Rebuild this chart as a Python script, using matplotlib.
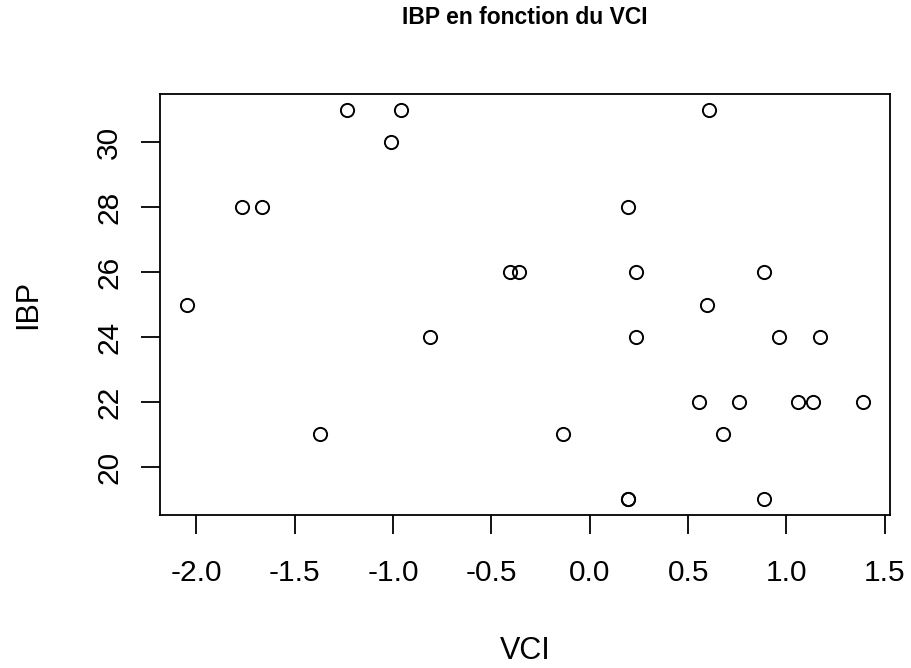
import matplotlib
matplotlib.use("Agg")
import matplotlib.pyplot as plt
import numpy as np

# Data
vci = [-2.048, -1.771, -1.669, -1.370, -1.236, -1.009, -0.958, -0.815,
       -0.404, -0.358, -0.136,
       0.606, 0.195, 0.236, 0.886, 0.596, 0.236, 0.964, 1.172,
       0.555, 0.761, 1.058, 1.133, 1.389, 0.678,
       0.192, 0.1925, 0.886]
ibp = [25, 28, 28, 21, 31, 30, 31, 24,
       26, 26, 21,
       31, 28, 26, 26, 25, 24, 24, 24,
       22, 22, 22, 22, 22, 21,
       19, 19, 19]

x_ticks = [-2.0, -1.5, -1.0, -0.5, 0.0, 0.5, 1.0, 1.5]
y_ticks = [20, 22, 24, 26, 28, 30]
title = "IBP en fonction du VCI"
xlabel = "VCI"
ylabel = "IBP"

plt.rcParams['font.family'] = ['Liberation Sans', 'DejaVu Sans']

fig = plt.figure(figsize=(9.11, 6.68), dpi=100)
ax = fig.add_axes([160/911, 1 - 515/668, 730/911, (515 - 94.3)/668])

ax.plot(vci, ibp, linestyle='none', marker='o', markersize=9.5,
        markerfacecolor='none', markeredgecolor='black', markeredgewidth=1.4)

# R-style 4% extension of the data range
xr = max(vci) - min(vci)
yr = max(ibp) - min(ibp)
ax.set_xlim(min(vci) - 0.04 * xr, max(vci) + 0.04 * xr)
ax.set_ylim(min(ibp) - 0.04 * yr, max(ibp) + 0.04 * yr)

ax.set_xticks(x_ticks)
ax.set_xticklabels([f"{v:.1f}" for v in x_ticks])
ax.set_yticks(y_ticks)
ax.set_yticklabels([str(v) for v in y_ticks], rotation=90, va='center')

for s in ax.spines.values():
    s.set_linewidth(1.3)
    s.set_color('black')

ax.tick_params(axis='both', direction='out', length=13.5, width=1.3,
               labelsize=21.5, colors='black')
ax.tick_params(axis='x', pad=18)
ax.tick_params(axis='y', pad=13)

ax.set_xlabel(xlabel, fontsize=22)
ax.xaxis.set_label_coords(0.5, -0.323)
ax.xaxis.label.set_va('center')
ax.set_ylabel(ylabel, fontsize=22)
ax.yaxis.set_label_coords(-0.1808, 0.5)
ax.yaxis.label.set_va('center')

ax.set_title(title, fontsize=16.5, fontweight='bold', y=1.1826, va='center', pad=0)

fig.savefig("out.png", dpi=100)
